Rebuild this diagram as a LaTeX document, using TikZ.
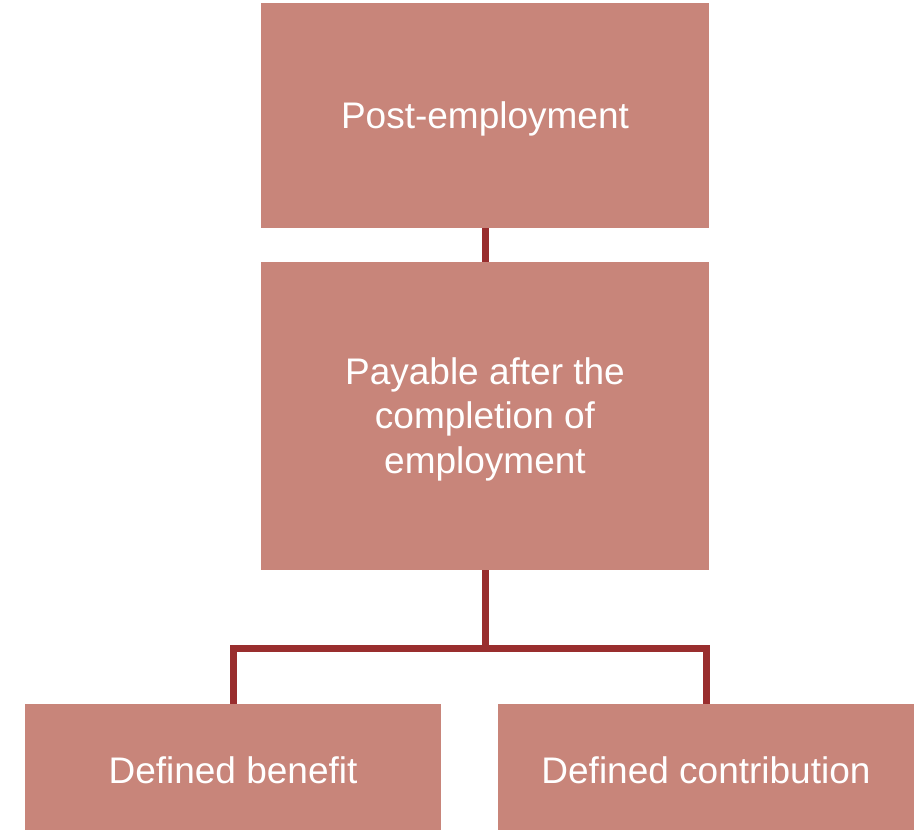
\documentclass[tikz,border=0pt]{standalone}
\usepackage{fontspec}
\setmainfont{Liberation Sans}
\definecolor{boxfill}{HTML}{C8857A}
\definecolor{linkred}{HTML}{992E2E}
\begin{document}
\begin{tikzpicture}[x=1pt,y=-1pt,
  box/.style={fill=boxfill,draw=none,inner sep=0pt},
  boxtext/.style={text=white,align=center,inner sep=0pt,yshift=-3pt,
    font=\fontsize{37}{44.5}\selectfont},
  link/.style={draw=linkred,line width=7pt}]
\useasboundingbox (0,0) rectangle (920,830);
\node[box,minimum width=448pt,minimum height=225pt] (top) at (485,115.5) {};
\node[box,minimum width=448pt,minimum height=308pt] (mid) at (485,416) {};
\node[box,minimum width=416pt,minimum height=126pt] (left) at (233,767) {};
\node[box,minimum width=416pt,minimum height=126pt] (right) at (706,767) {};
\node[boxtext] (toptext) at (top.center) {Post-employment};
\node[boxtext] (midtext) at (mid.center) {Payable after the\\completion of\\employment};
\node[boxtext] (lefttext) at (left.center) {Defined benefit};
\node[boxtext] (righttext) at (right.center) {Defined contribution};
\coordinate (split) at (485,648);
\draw[link] (top.south) -- (mid.north);
\draw[link] (mid.south) -- (split);
\draw[link] (split) -| (left.north);
\draw[link] (split) -| (right.north);
\end{tikzpicture}
\end{document}
